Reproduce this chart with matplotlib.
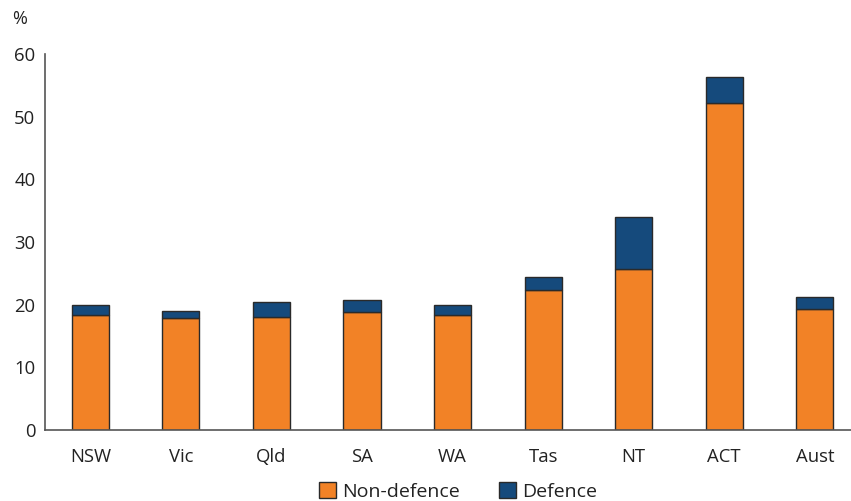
import matplotlib
matplotlib.use("Agg")
import matplotlib.pyplot as plt
import numpy as np

states = ["NSW", "Vic", "Qld", "SA", "WA", "Tas", "NT", "ACT", "Aust"]
non_defence = [18.3, 17.8, 18.0, 18.8, 18.3, 22.3, 25.7, 52.2, 19.3]
defence = [1.6, 1.2, 2.4, 1.9, 1.6, 2.1, 8.3, 4.1, 1.9]

orange = "#F28226"
navy = "#154A7C"
edge = "#2a2a2a"

plt.rcParams["font.family"] = ["Open Sans", "DejaVu Sans"]

fig = plt.figure(figsize=(8.51, 5.01), dpi=100)
ax = fig.add_axes([0.053, 0.142, 0.947, 0.75])

x = np.arange(len(states))
w = 0.41
ax.bar(x, non_defence, w, color=orange, edgecolor=edge, linewidth=1.0, label="Non-defence")
ax.bar(x, defence, w, bottom=non_defence, color=navy, edgecolor=edge, linewidth=1.0, label="Defence")

ax.set_xlim(-0.5, 8.4)
ax.set_ylim(0, 60)
ax.set_yticks(range(0, 61, 10))
ax.set_xticks(x)
ax.set_xticklabels(states)
ax.tick_params(axis="both", length=0, labelsize=13.3, colors="#222222")
ax.tick_params(axis="y", pad=7)
ax.tick_params(axis="x", pad=13)

for s in ["top", "right"]:
    ax.spines[s].set_visible(False)
for s in ["left", "bottom"]:
    ax.spines[s].set_color("#555555")
    ax.spines[s].set_linewidth(1.2)

fig.text(0.014, 0.953, "%", fontsize=13, color="#222222")

fig.legend(loc="lower center", bbox_to_anchor=(0.538, -0.035), ncol=2, frameon=False,
           fontsize=14, handlelength=0.9, handleheight=0.9, handletextpad=0.3,
           columnspacing=2.0, labelcolor="#222222")

fig.savefig("out.png", dpi=100)
